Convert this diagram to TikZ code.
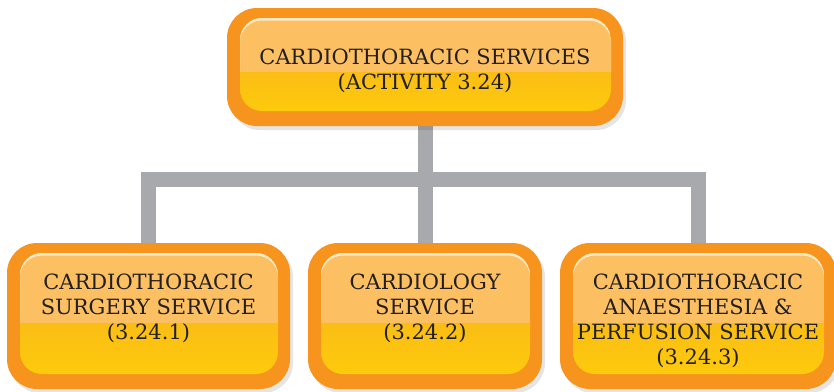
\documentclass[tikz,border=0pt]{standalone}
\usepackage{fontspec}
\setmainfont{DejaVu Serif}
\usetikzlibrary{calc,backgrounds}
\definecolor{outerO}{HTML}{F7941D}
\definecolor{inA}{HTML}{F8AC22}
\definecolor{inB}{HTML}{FDCA0C}
\definecolor{gloss}{HTML}{FCC063}
\definecolor{txt}{HTML}{231F20}
\definecolor{connG}{HTML}{A7A9AC}
\begin{document}
\begin{tikzpicture}[x=1pt,y=-1pt,
  card/.style={fill=outerO, rounded corners=30pt, inner sep=0pt, align=center,
    text=txt,
    preaction={fill=black, opacity=0.10, transform canvas={xshift=3pt,yshift=-4pt}},
    path picture={
      \coordinate (ia) at ([xshift=13pt,yshift=15pt]path picture bounding box.south west);
      \coordinate (ib) at ([xshift=-12pt,yshift=-10pt]path picture bounding box.north east);
      \coordinate (im) at ($(ia)!0.42!(ib)$);
      \fill[top color=inA, bottom color=inB, rounded corners=22pt] (ia) rectangle (ib);
      \begin{scope}
        \clip[rounded corners=22pt] (ia) rectangle (ib);
        \clip[sharp corners] (ia |- im) rectangle (ib);
        \fill[gloss, sharp corners] (ia |- im) rectangle (ib);
        \fill[white, opacity=0.65, even odd rule, rounded corners=22pt]
          (ia) rectangle (ib) ([yshift=-2.5pt]ia) rectangle ([yshift=-2.5pt]ib);
      \end{scope}
    }},
  cardtext/.style={anchor=north, yshift=-31pt, inner sep=0pt, align=center,
    text=txt, font=\fontsize{21}{25}\selectfont},
  conn/.style={draw=connG, line width=15pt}]
\useasboundingbox (0,0) rectangle (834,391);
\coordinate (bar) at (425,179.5);
% boxes
\node[card, minimum width=396pt, minimum height=118pt,
  label={[cardtext, yshift=-10pt]north:CARDIOTHORACIC SERVICES\\(ACTIVITY 3.24)}] (top) at (425,67) {};
\node[card, minimum width=283pt, minimum height=146pt,
  label={[cardtext]north:CARDIOTHORACIC\\SURGERY SERVICE\\(3.24.1)}] (b1) at (148.5,316) {};
\node[card, minimum width=234pt, minimum height=146pt,
  label={[cardtext]north:CARDIOLOGY\\SERVICE\\(3.24.2)}] (b2) at (425,316) {};
\node[card, minimum width=276pt, minimum height=146pt,
  label={[cardtext]north:CARDIOTHORACIC\\ANAESTHESIA \&\\PERFUSION SERVICE\\(3.24.3)}] (b3) at (698,316) {};
% connectors
\begin{pgfonlayer}{background}
  \draw[conn] (top.south) -- (b2.north);
  \draw[conn] (b1.north) |- (bar) -| (b3.north);
\end{pgfonlayer}
\end{tikzpicture}
\end{document}
